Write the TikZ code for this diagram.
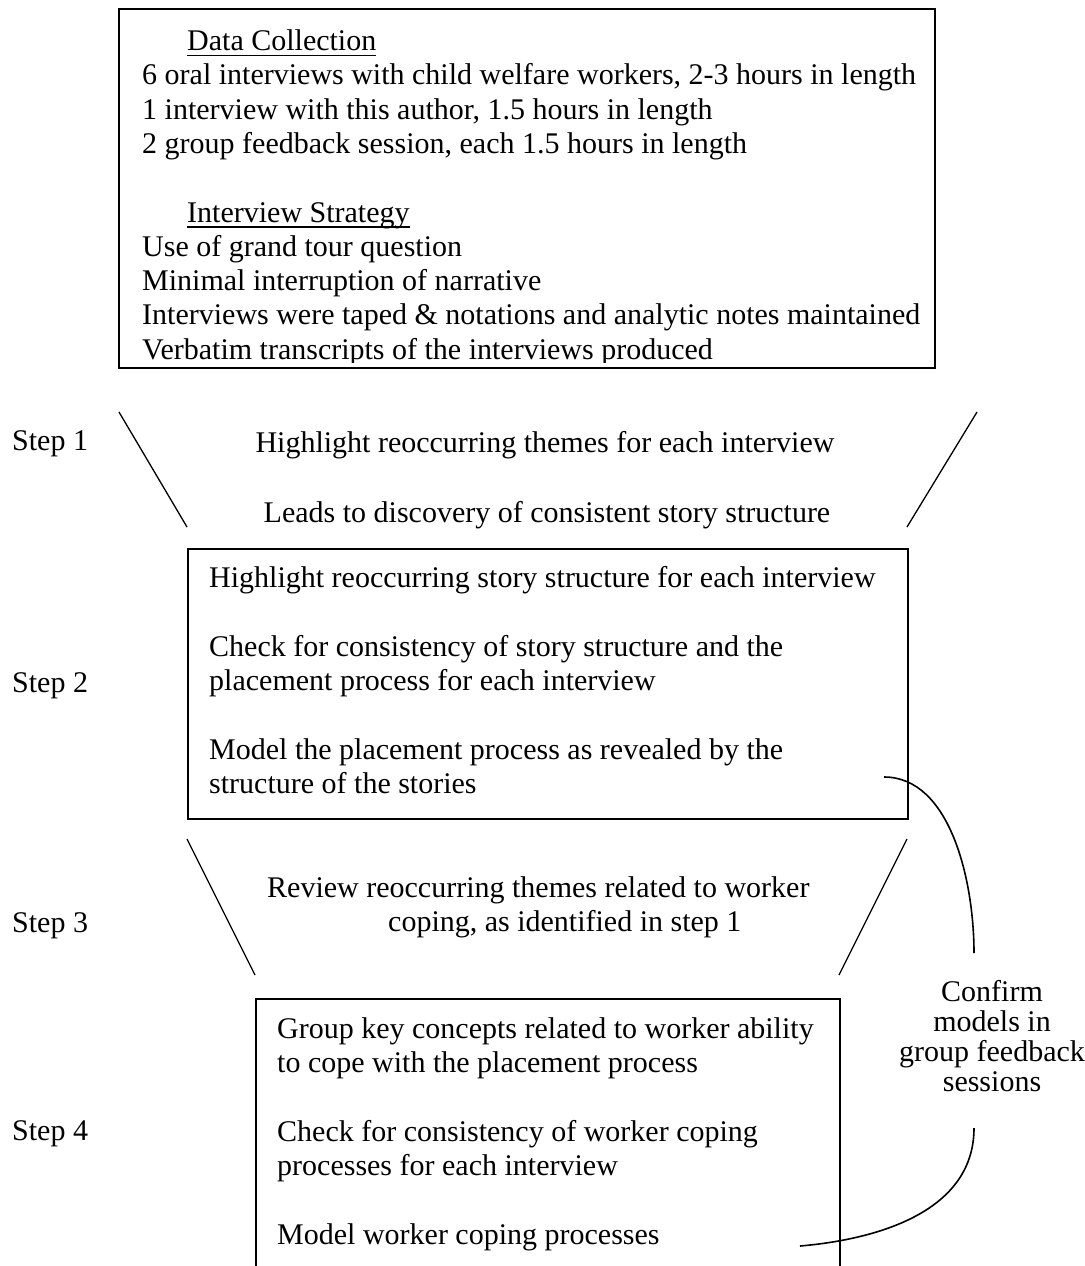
\documentclass[tikz,border=0pt]{standalone}
\usepackage{fontspec}
\setmainfont{Liberation Serif}
\newcommand{\ulhead}[1]{\setbox0\hbox{#1}\rlap{\rule[-5.5pt]{\wd0}{1.5pt}}\box0}

\begin{document}
\begin{tikzpicture}[x=1pt, y=-1pt,
    txt/.style={font=\fontsize{30}{34.3}\selectfont, inner sep=0pt, align=left},
    boxframe/.style={draw, line width=2pt, inner sep=0pt},
    funnel/.style={line width=1.3pt},
    brace/.style={line width=1.6pt}]
    \useasboundingbox (0,0) rectangle (1084,1266);

    % the three boxes
    \node[boxframe, anchor=north west, minimum width=816pt, minimum height=359pt] (collect) at (118,8) {};
    \node[boxframe, anchor=north west, minimum width=720pt, minimum height=270pt] (story) at (187,548) {};
    \node[boxframe, anchor=north west, minimum width=584pt, minimum height=300pt] (coping) at (255,998) {};

    % text of the boxes
    \begin{scope}
        \clip (collect.north west) rectangle ([yshift=7pt]collect.south east);
        \node[txt, anchor=north west] (collecttext) at (142,29.5) {\hspace*{45pt}\ulhead{Data Collection}\\
            6 oral interviews with child welfare workers, 2-3 hours in length\\
            1 interview with this author, 1.5 hours in length\\
            2 group feedback session, each 1.5 hours in length\\
            \mbox{}\\
            \hspace*{45pt}\ulhead{Interview Strategy}\\
            Use of grand tour question\\
            Minimal interruption of narrative\\
            Interviews were taped \& notations and analytic notes maintained\\
            Verbatim transcripts of the interviews produced};
    \end{scope}
    \node[txt, anchor=north west] (storytext) at (209,566.5) {Highlight reoccurring story structure for each interview\\
        \mbox{}\\
        Check for consistency of story structure and the\\
        placement process for each interview\\
        \mbox{}\\
        Model the placement process as revealed by the\\
        structure of the stories};
    \node[txt, anchor=north west] (copingtext) at (277,1017.5) {Group key concepts related to worker ability\\
        to cope with the placement process\\
        \mbox{}\\
        Check for consistency of worker coping\\
        processes for each interview\\
        \mbox{}\\
        Model worker coping processes};

    % step labels
    \node[txt, anchor=base west] (step1) at (12,450) {Step 1};
    \node[txt, anchor=base west] (step2) at (12,692) {Step 2};
    \node[txt, anchor=base west] (step3) at (12,932) {Step 3};
    \node[txt, anchor=base west] (step4) at (12,1140) {Step 4};

    % texts between the boxes
    \node[txt, anchor=base] (themes) at (545,452) {Highlight reoccurring themes for each interview};
    \node[txt, anchor=base] (leads) at (547,522) {Leads to discovery of consistent story structure};
    \node[txt, anchor=north west] (review) at (267,876.5) {Review reoccurring themes related to worker\\
        \hspace*{121pt}coping, as identified in step 1};
    \node[txt, align=center, font=\fontsize{30}{30}\selectfont, anchor=north] (confirm) at (992,980.5) {Confirm\\ models in\\ group feedback\\ sessions};

    % funnel lines
    \coordinate (s1ltop) at (119,412);
    \coordinate (s1lbot) at (187,527);
    \coordinate (s1rtop) at (977,412);
    \coordinate (s1rbot) at (907,527);
    \coordinate (s3ltop) at (187,839);
    \coordinate (s3lbot) at (255,975);
    \coordinate (s3rtop) at (907,839);
    \coordinate (s3rbot) at (839,975);
    \draw[funnel] (s1ltop) -- (s1lbot);
    \draw[funnel] (s1rtop) -- (s1rbot);
    \draw[funnel] (s3ltop) -- (s3lbot);
    \draw[funnel] (s3rtop) -- (s3rbot);

    % bracket round the feedback note
    \coordinate (bracetop) at (884,777);
    \coordinate (braceupper) at (974,953);
    \coordinate (bracelower) at (974,1128);
    \coordinate (bracebot) at (800,1246);
    \draw[brace] (bracetop) .. controls (950,777) and (974,880) .. (braceupper);
    \draw[brace] (bracelower) .. controls (974,1215) and (870,1240) .. (bracebot);
\end{tikzpicture}
\end{document}
